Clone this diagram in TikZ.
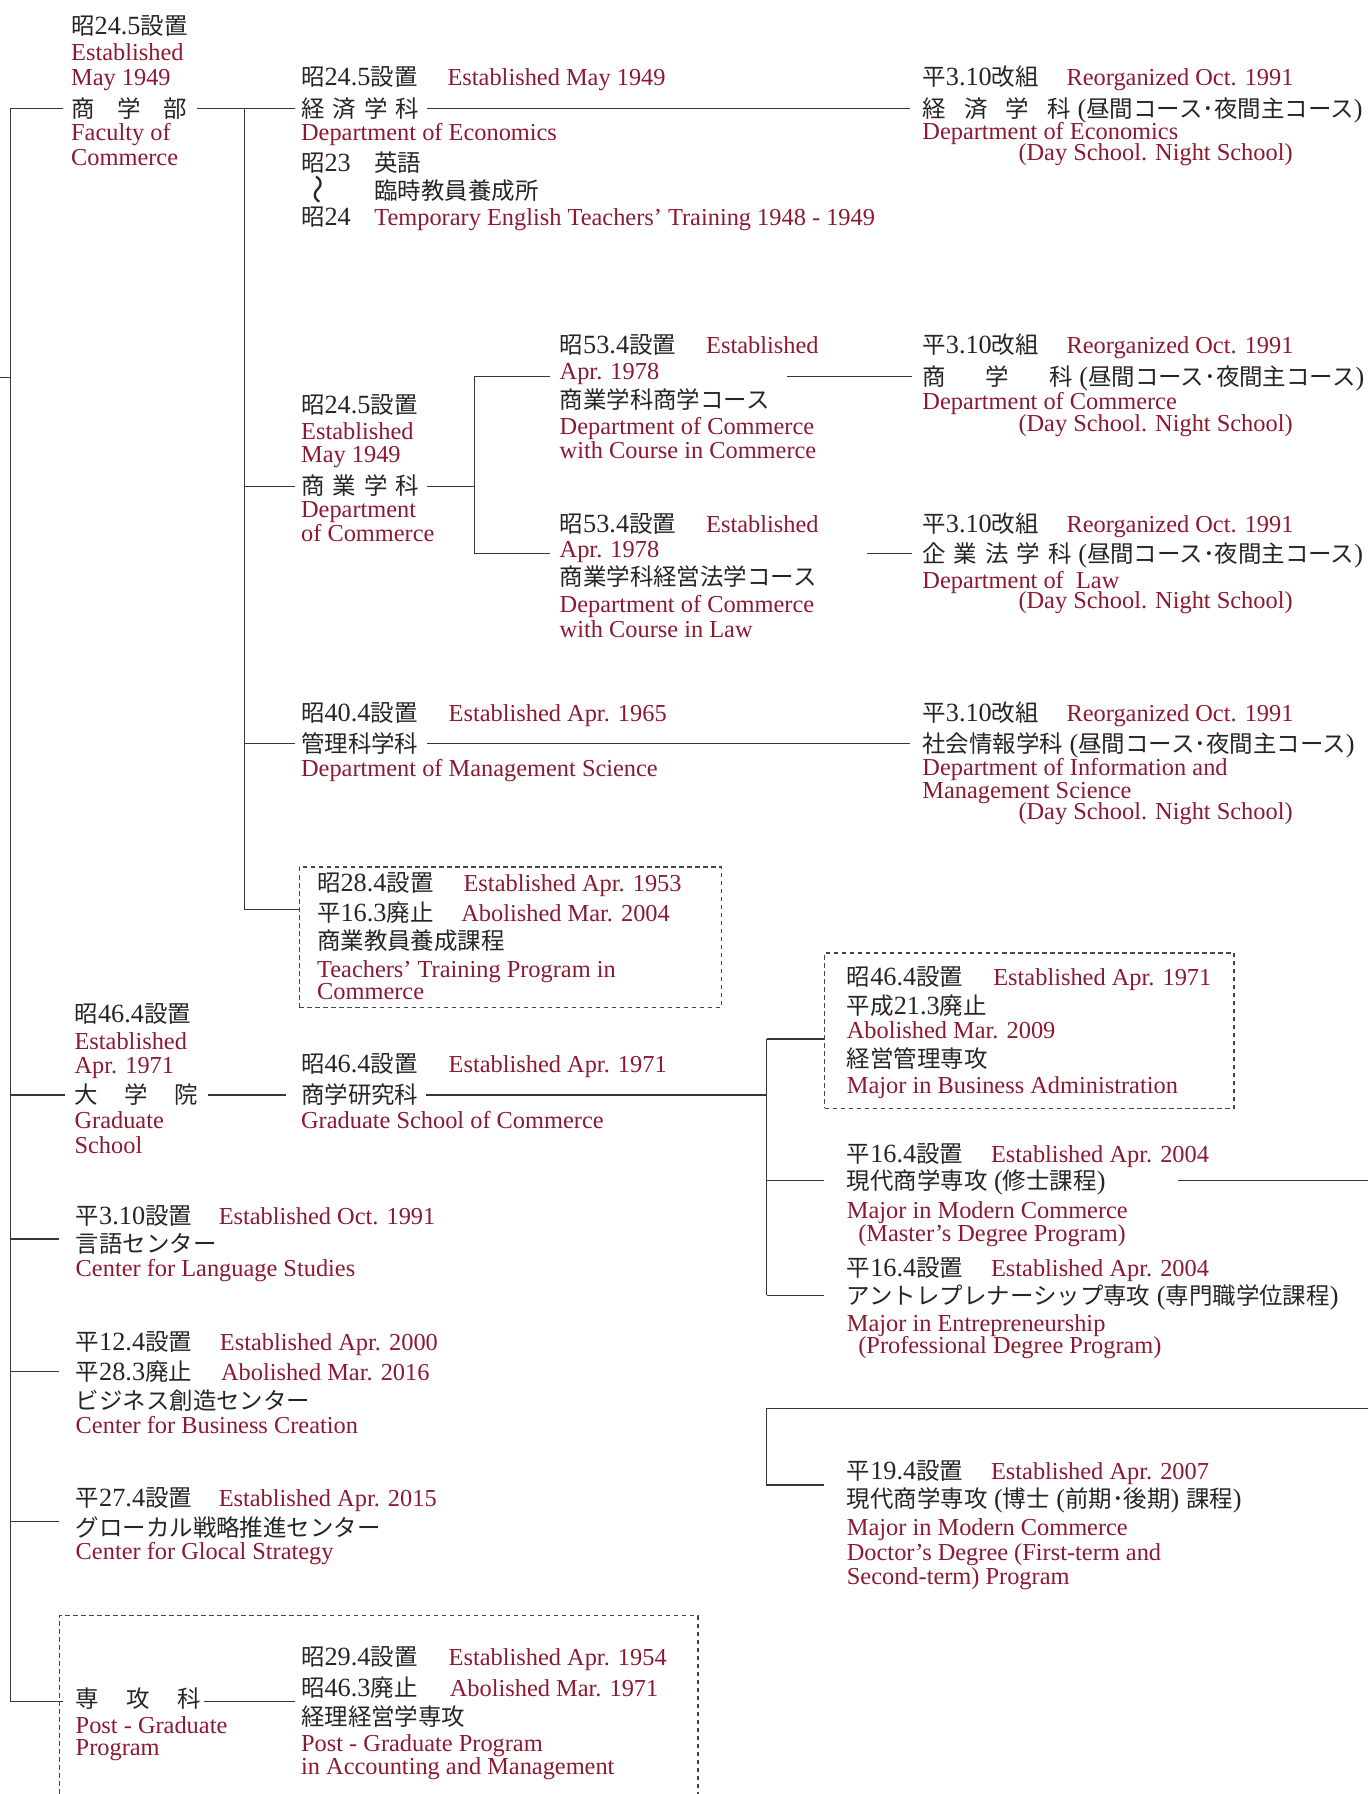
\documentclass[tikz,border=0pt]{standalone}
\usepackage{fontspec}
\setmainfont{Liberation Serif}
\newfontfamily\cjkfont{Noto Sans CJK JP}
\newfontfamily\latinfont{Liberation Serif}[Scale=1.12]
\newXeTeXintercharclass\cjkclass
\newcount\cjkcnt
\def\setcjkrange#1#2{\cjkcnt=#1\relax\loop\XeTeXcharclass\cjkcnt=\cjkclass\relax\ifnum\cjkcnt<#2\relax\advance\cjkcnt by 1\relax\repeat}
\setcjkrange{"3000}{"30FF}
\setcjkrange{"4E00}{"9FFF}
\setcjkrange{"FF00}{"FFEF}
\XeTeXinterchartoks 0 \cjkclass = {\cjkfont}
\XeTeXinterchartoks 4095 \cjkclass = {\cjkfont}
\XeTeXinterchartoks \cjkclass 0 = {\latinfont}
\XeTeXinterchartoks \cjkclass 4095 = {\latinfont}
\XeTeXinterchartokenstate=1
\definecolor{jpc}{RGB}{40,36,36}
\definecolor{enc}{RGB}{139,25,48}
\definecolor{lnc}{RGB}{55,55,55}
\definecolor{bxc}{RGB}{70,70,70}
\tikzset{
  jp/.style={anchor=base west, inner sep=0pt, text=jpc, font=\fontsize{20.5}{24}\selectfont},
  en/.style={anchor=base west, inner sep=0pt, text=enc, font=\fontsize{21.3}{22}\selectfont},
  ln/.style={draw=lnc, line width=1.1pt},
  dbox/.style={draw=bxc, dash pattern=on 4pt off 3pt, line width=1.4pt}
}
\begin{document}
\begin{tikzpicture}[x=1pt,y=-1pt]
\useasboundingbox (0,0) rectangle (1196,1568);
% ---------- Faculty of Commerce
\node[jp] (a1) at (62,30) {昭24.5設置};
\node[en] (a2) at (62,53) {Established};
\node[en] (a3) at (62,75) {May 1949};
\node[jp] (fac) at (62,102.5) {商\hspace{20pt}学\hspace{20pt}部};
\node[en] (a5) at (62,123) {Faculty of};
\node[en] (a6) at (62,145) {Commerce};
% ---------- Economics
\node[jp] (b1) at (263,75) {昭24.5設置};
\node[en] (b1e) at (391,75) {Established May 1949};
\node[jp] (eco) at (263,102.5) {経\hspace{7pt}済\hspace{7pt}学\hspace{7pt}科};
\node[en] (b3) at (263,123) {Department of Economics};
\node[jp] (b4) at (263,150) {昭23};
\node[jp] (b4j) at (327,150) {英語};
\node[rotate=90, inner sep=0pt, text=jpc, font=\fontsize{26}{26}\selectfont] (b5) at (281,166) {〜};
\node[jp] (b5j) at (327,174) {臨時教員養成所};
\node[jp] (b6) at (263,197) {昭24};
\node[en] (b6e) at (327,197) {Temporary English Teachers’ Training 1948 - 1949};
\node[jp] (c1) at (806,75) {平3.10改組};
\node[en] (c1e) at (932,75) {Reorganized Oct. 1991};
\node[jp] (eco2) at (806,102.5) {経\hspace{16pt}済\hspace{16pt}学\hspace{16pt}科 (昼間コース･夜間主コース)};
\node[en] (c3) at (806,122) {Department of Economics};
\node[en] (c4) at (890,140) {(Day School. Night School)};
% ---------- Commerce
\node[jp] (d1) at (263,361) {昭24.5設置};
\node[en] (d2) at (263,384) {Established};
\node[en] (d3) at (263,404) {May 1949};
\node[jp] (com) at (263,432.5) {商\hspace{7pt}業\hspace{7pt}学\hspace{7pt}科};
\node[en] (d5) at (263,452) {Department};
\node[en] (d6) at (263,473) {of Commerce};
\node[jp] (e1) at (489,309) {昭53.4設置};
\node[en] (e1e) at (617,309) {Established};
\node[en] (e2) at (489,332) {Apr. 1978};
\node[jp] (cc) at (489,357) {商業学科商学コース};
\node[en] (e4) at (489,380) {Department of Commerce};
\node[en] (e5) at (489,401) {with Course in Commerce};
\node[jp] (f1) at (489,465) {昭53.4設置};
\node[en] (f1e) at (617,465) {Established};
\node[en] (f2) at (489,487) {Apr. 1978};
\node[jp] (cl) at (489,512) {商業学科経営法学コース};
\node[en] (f4) at (489,535) {Department of Commerce};
\node[en] (f5) at (489,557) {with Course in Law};
\node[jp] (g1) at (806,309) {平3.10改組};
\node[en] (g1e) at (932,309) {Reorganized Oct. 1991};
\node[jp] (com2) at (806,336.5) {商\hspace{35pt}学\hspace{35pt}科 (昼間コース･夜間主コース)};
\node[en] (g3) at (806,358) {Department of Commerce};
\node[en] (g4) at (890,377) {(Day School. Night School)};
\node[jp] (h1) at (806,465) {平3.10改組};
\node[en] (h1e) at (932,465) {Reorganized Oct. 1991};
\node[jp] (law) at (806,491.5) {企\hspace{7pt}業\hspace{7pt}法\hspace{7pt}学\hspace{7pt}科 (昼間コース･夜間主コース)};
\node[en] (h3) at (806,514) {Department of\ \ Law};
\node[en] (h4) at (890,532) {(Day School. Night School)};
% ---------- Management Science
\node[jp] (i1) at (263,631) {昭40.4設置};
\node[en] (i1e) at (392,631) {Established Apr. 1965};
\node[jp] (mgt) at (263,657.5) {管理科学科};
\node[en] (i3) at (263,679) {Department of Management Science};
\node[jp] (j1) at (806,631) {平3.10改組};
\node[en] (j1e) at (932,631) {Reorganized Oct. 1991};
\node[jp] (info) at (806,657.5) {社会情報学科 (昼間コース･夜間主コース)};
\node[en] (j3) at (806,678) {Department of Information and};
\node[en] (j4) at (806,698) {Management Science};
\node[en] (j5) at (890,716) {(Day School. Night School)};
% ---------- Teachers' training (dashed)
\node[dbox, anchor=north west, minimum width=369pt, minimum height=123pt, inner sep=0pt] (kbox) at (261,757) {};
\node[jp] (k1) at (277,779) {昭28.4設置};
\node[en] (k1e) at (405,779) {Established Apr. 1953};
\node[jp] (k2) at (277,805) {平16.3廃止};
\node[en] (k2e) at (403,805) {Abolished Mar. 2004};
\node[jp] (k3) at (277,830) {商業教員養成課程};
\node[en] (k4) at (277,854) {Teachers’ Training Program in};
\node[en] (k5) at (277,874) {Commerce};
% ---------- Graduate School
\node[jp] (l1) at (65,894) {昭46.4設置};
\node[en] (l2) at (65,917) {Established};
\node[en] (l3) at (65,938) {Apr. 1971};
\node[jp] (grad) at (65,964.5) {大\hspace{23pt}学\hspace{23pt}院};
\node[en] (l5) at (65,986) {Graduate};
\node[en] (l6) at (65,1008) {School};
\node[jp] (m1) at (263,937) {昭46.4設置};
\node[en] (m1e) at (392,937) {Established Apr. 1971};
\node[jp] (gsc) at (263,964.5) {商学研究科};
\node[en] (m3) at (263,986) {Graduate School of Commerce};
\node[dbox, anchor=north west, minimum width=358pt, minimum height=136pt, inner sep=0pt] (nbox) at (720,832) {};
\node[jp] (n1) at (740,861) {昭46.4設置};
\node[en] (n1e) at (868,861) {Established Apr. 1971};
\node[jp] (n2) at (740,887) {平成21.3廃止};
\node[en] (n3) at (740,908) {Abolished Mar. 2009};
\node[jp] (n4) at (740,933) {経営管理専攻};
\node[en] (n5) at (740,956) {Major in Business Administration};
\node[jp] (o1) at (740,1016) {平16.4設置};
\node[en] (o1e) at (866,1016) {Established Apr. 2004};
\node[jp] (mc) at (740,1040) {現代商学専攻 (修士課程)};
\node[en] (o3) at (740,1065) {Major in Modern Commerce};
\node[en] (o4) at (750,1085) {(Master’s Degree Program)};
\node[jp] (p1) at (740,1116) {平16.4設置};
\node[en] (p1e) at (866,1116) {Established Apr. 2004};
\node[jp] (ent) at (740,1140) {アントレプレナーシップ専攻 (専門職学位課程)};
\node[en] (p3) at (740,1164) {Major in Entrepreneurship};
\node[en] (p4) at (750,1183) {(Professional Degree Program)};
\node[jp] (q1) at (740,1293) {平19.4設置};
\node[en] (q1e) at (866,1293) {Established Apr. 2007};
\node[jp] (dc) at (740,1318) {現代商学専攻 (博士 (前期･後期) 課程)};
\node[en] (q3) at (740,1342) {Major in Modern Commerce};
\node[en] (q4) at (740,1364) {Doctor’s Degree (First-term and};
\node[en] (q5) at (740,1385) {Second-term) Program};
% ---------- Centers
\node[jp] (r1) at (66,1070) {平3.10設置};
\node[en] (r1e) at (191,1070) {Established Oct. 1991};
\node[jp] (lang) at (66,1095) {言語センター};
\node[en] (r3) at (66,1116) {Center for Language Studies};
\node[jp] (s1) at (66,1180) {平12.4設置};
\node[en] (s1e) at (192,1180) {Established Apr. 2000};
\node[jp] (biz0) at (66,1207) {平28.3廃止};
\node[en] (s2e) at (193,1207) {Abolished Mar. 2016};
\node[jp] (biz) at (66,1232) {ビジネス創造センター};
\node[en] (s4) at (66,1253) {Center for Business Creation};
\node[jp] (t1) at (66,1317) {平27.4設置};
\node[en] (t1e) at (191,1317) {Established Apr. 2015};
\node[jp] (glo) at (66,1343) {グローカル戦略推進センター};
\node[en] (t3) at (66,1363) {Center for Glocal Strategy};
% ---------- Post-graduate program
\node[jp] (pg) at (66,1492) {専\hspace{24pt}攻\hspace{24pt}科};
\node[en] (u2) at (66,1515) {Post - Graduate};
\node[en] (u3) at (66,1534) {Program};
\node[jp] (v1) at (263,1456) {昭29.4設置};
\node[en] (v1e) at (392,1456) {Established Apr. 1954};
\node[jp] (v2) at (263,1483) {昭46.3廃止};
\node[en] (v2e) at (393,1483) {Abolished Mar. 1971};
\node[jp] (acc) at (263,1508) {経理経営学専攻};
\node[en] (v4) at (263,1531) {Post - Graduate Program};
\node[en] (v5) at (263,1551) {in Accounting and Management};
% ---------- coordinates
\coordinate (Ltop) at (9,95);
\coordinate (Lbot) at (9,1487);
\coordinate (stub) at (0,330);
\coordinate (stubE) at (9,330);
\coordinate (facL) at (55,95);
\coordinate (facR) at (172,95);
\coordinate (ecoL) at (258,95);
\coordinate (V2top) at (214,95);
\coordinate (V2bot) at (214,795);
\coordinate (ecoR) at (373,95);
\coordinate (eco2L) at (795,95);
\coordinate (comJ) at (214,425);
\coordinate (comL) at (258,425);
\coordinate (comR) at (373,425);
\coordinate (V3m) at (415,425);
\coordinate (V3t) at (415,329);
\coordinate (V3b) at (415,484);
\coordinate (ccL) at (481,329);
\coordinate (clL) at (481,484);
\coordinate (ccR) at (688,329);
\coordinate (com2L) at (797,329);
\coordinate (clR) at (758,484);
\coordinate (law2L) at (797,484);
\coordinate (mgtJ) at (214,650);
\coordinate (mgtL) at (258,650);
\coordinate (mgtR) at (373,650);
\coordinate (infoL) at (795,650);
\coordinate (kboxL) at (261,795);
\coordinate (gradJ) at (9,957);
\coordinate (gradL) at (57,957);
\coordinate (gradR) at (182,957);
\coordinate (gscL) at (250,957);
\coordinate (gscR) at (372,957);
\coordinate (V4m) at (670,957);
\coordinate (V4t) at (670,908);
\coordinate (V4b) at (670,1132);
\coordinate (nboxL) at (720,908);
\coordinate (V4o) at (670,1032);
\coordinate (mcL) at (720,1032);
\coordinate (entL) at (720,1132);
\coordinate (mcR) at (1030,1032);
\coordinate (mcOut) at (1196,1032);
\coordinate (dcIn) at (1196,1231);
\coordinate (dcC) at (670,1231);
\coordinate (dcJ) at (670,1298);
\coordinate (dcL) at (720,1298);
\coordinate (langJ) at (9,1083);
\coordinate (langL) at (52,1083);
\coordinate (bizJ) at (9,1199);
\coordinate (bizL) at (52,1199);
\coordinate (gloJ) at (9,1330);
\coordinate (gloL) at (52,1330);
\coordinate (pgL) at (55,1487);
\coordinate (pgR) at (178,1487);
\coordinate (accL) at (258,1487);
\coordinate (vb1) at (52,1568);
\coordinate (vb2) at (52,1412);
\coordinate (vb3) at (610,1412);
\coordinate (vb4) at (610,1568);
% ---------- connectors
\draw[ln] (Ltop) -- (Lbot);
\draw[ln] (stub) -- (stubE);
\draw[ln] (Ltop) -- (facL);
\draw[ln] (facR) -- (ecoL);
\draw[ln] (V2top) -- (V2bot);
\draw[ln] (ecoR) -- (eco2L);
\draw[ln] (comJ) -- (comL);
\draw[ln] (comR) -- (V3m);
\draw[ln] (ccL) -- (V3t) -- (V3b) -- (clL);
\draw[ln] (ccR) -- (com2L);
\draw[ln] (clR) -- (law2L);
\draw[ln] (mgtJ) -- (mgtL);
\draw[ln] (mgtR) -- (infoL);
\draw[ln] (V2bot) -- (kboxL);
\draw[ln] (gradJ) -- (gradL);
\draw[ln] (gradR) -- (gscL);
\draw[ln] (gscR) -- (V4m);
\draw[ln] (V4t) -- (V4b);
\draw[ln] (V4t) -- (nboxL);
\draw[ln] (V4o) -- (mcL);
\draw[ln] (V4b) -- (entL);
\draw[ln] (mcR) -- (mcOut);
\draw[ln] (dcIn) -- (dcC) -- (dcJ) -- (dcL);
\draw[ln] (langJ) -- (langL);
\draw[ln] (bizJ) -- (bizL);
\draw[ln] (gloJ) -- (gloL);
\draw[ln] (Lbot) -- (pgL);
\draw[ln] (pgR) -- (accL);
\draw[dbox] (vb1) -- (vb2) -- (vb3) -- (vb4);
\end{tikzpicture}
\end{document}
